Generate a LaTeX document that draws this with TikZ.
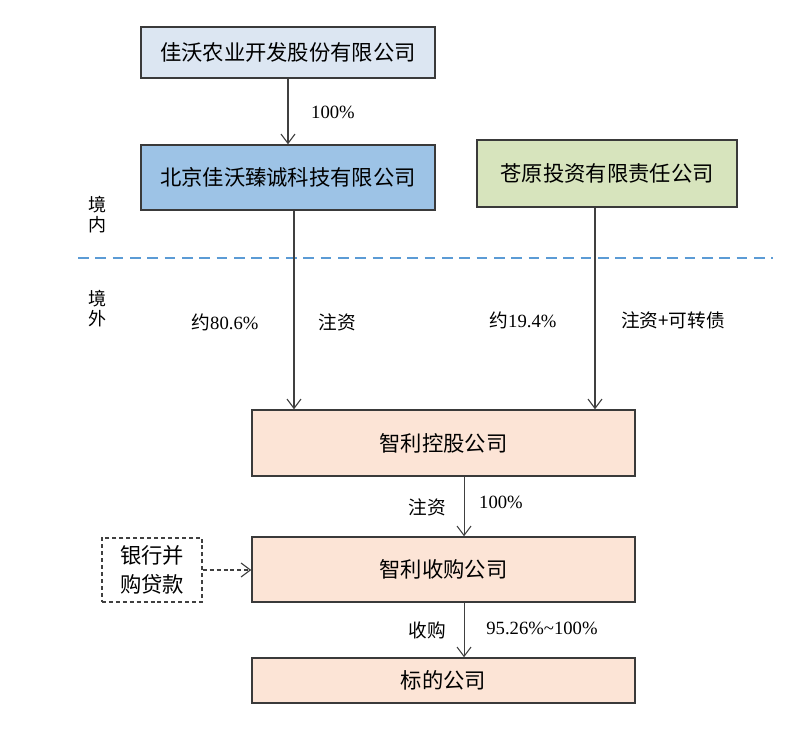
\documentclass[tikz,border=0pt]{standalone}
\usepackage{fontspec}
\setmainfont{Liberation Serif}
\newfontfamily\cjk{Noto Sans CJK SC}
\usetikzlibrary{arrows.meta}

\definecolor{hellblau}{HTML}{DCE6F2}
\definecolor{mittelblau}{HTML}{9DC3E6}
\definecolor{hellgruen}{HTML}{D7E4BD}
\definecolor{pfirsich}{HTML}{FCE4D6}
\definecolor{rahmen}{HTML}{3A3A3A}
\definecolor{linie}{HTML}{404040}
\definecolor{grenze}{HTML}{5B9BD5}

\begin{document}
\begin{tikzpicture}[x=0.75pt, y=-0.75pt, >={Straight Barb[length=7pt,width=10.5pt]},
  firma/.style={draw=rahmen, line width=1.1pt, inner sep=0pt, align=center,
    font=\cjk\fontsize{16}{21.75}\selectfont},
  pfeil/.style={->, draw=linie, line width=0.8pt},
  anteil/.style={font=\fontsize{14}{17}\selectfont},
  zh/.style={font=\cjk\fontsize{13.5}{15}\selectfont, align=center}]
  \useasboundingbox (0,0) rectangle (801,732);

  % Gesellschaften
  \node[firma, fill=hellblau, minimum width=220.5pt, minimum height=38.25pt] (jiawo) at (288,52.5) {佳沃农业开发股份有限公司};
  \node[firma, fill=mittelblau, minimum width=220.5pt, minimum height=48.75pt] (zhencheng) at (288,177.5) {北京佳沃臻诚科技有限公司};
  \node[firma, fill=hellgruen, minimum width=195pt, minimum height=50.25pt] (cangyuan) at (607,173.5) {苍原投资有限责任公司};
  \node[firma, fill=pfirsich, minimum width=287.25pt, minimum height=49.5pt] (holding) at (443.5,443) {智利控股公司};
  \node[firma, fill=pfirsich, minimum width=287.25pt, minimum height=48.75pt] (shougou) at (443.5,569.5) {智利收购公司};
  \node[firma, fill=pfirsich, minimum width=287.25pt, minimum height=33.75pt] (biaodi) at (443.5,680.5) {标的公司};
  \node[firma, dashed, draw=linie, dash pattern=on 3pt off 2.2pt, minimum width=75pt, minimum height=48pt] (kredit) at (152,570) {银行并\\购贷款};

  % Grenze
  \coordinate (gl) at (78,258);
  \coordinate (gr) at (773,258);
  \draw[grenze, line width=1.5pt, dash pattern=on 8pt off 5pt] (gl) -- (gr);
  \node[zh] (innen) at (97,215) {境\\内};
  \node[zh] (aussen) at (97,309) {境\\外};

  % Pfeile
  \draw[pfeil] (jiawo) -- (zhencheng);
  \draw[pfeil] ([xshift=4.5pt]zhencheng.south) -- ([xshift=4.5pt]zhencheng.south |- holding.north);
  \draw[pfeil] ([xshift=-9pt]cangyuan.south) -- ([xshift=-9pt]cangyuan.south |- holding.north);
  \draw[pfeil] ([xshift=15.4pt]holding.south) -- ([xshift=15.4pt]holding.south |- shougou.north);
  \draw[pfeil] ([xshift=15.4pt]shougou.south) -- ([xshift=15.4pt]shougou.south |- biaodi.north);
  \draw[pfeil, dash pattern=on 3pt off 2.2pt] (kredit.east) -- (kredit.east -| shougou.west);

  % Beschriftungen
  \node[anteil] (a1) at (333,112) {100\%};
  \node[anteil] (a2) at (225,322) {{\cjk 约}80.6\%};
  \node[zh, font=\cjk\fontsize{14}{17}\selectfont] (a3) at (337,322) {注资};
  \node[anteil] (a4) at (523,320) {{\cjk 约}19.4\%};
  \node[zh, font=\cjk\fontsize{14}{17}\selectfont] (a5) at (673,320) {注资+可转债};
  \node[zh, font=\cjk\fontsize{14}{17}\selectfont] (a6) at (427,507) {注资};
  \node[anteil] (a7) at (501,502) {100\%};
  \node[zh, font=\cjk\fontsize{14}{17}\selectfont] (a8) at (427,630) {收购};
  \node[anteil] (a9) at (542,628) {95.26\%\textasciitilde100\%};
\end{tikzpicture}
\end{document}
